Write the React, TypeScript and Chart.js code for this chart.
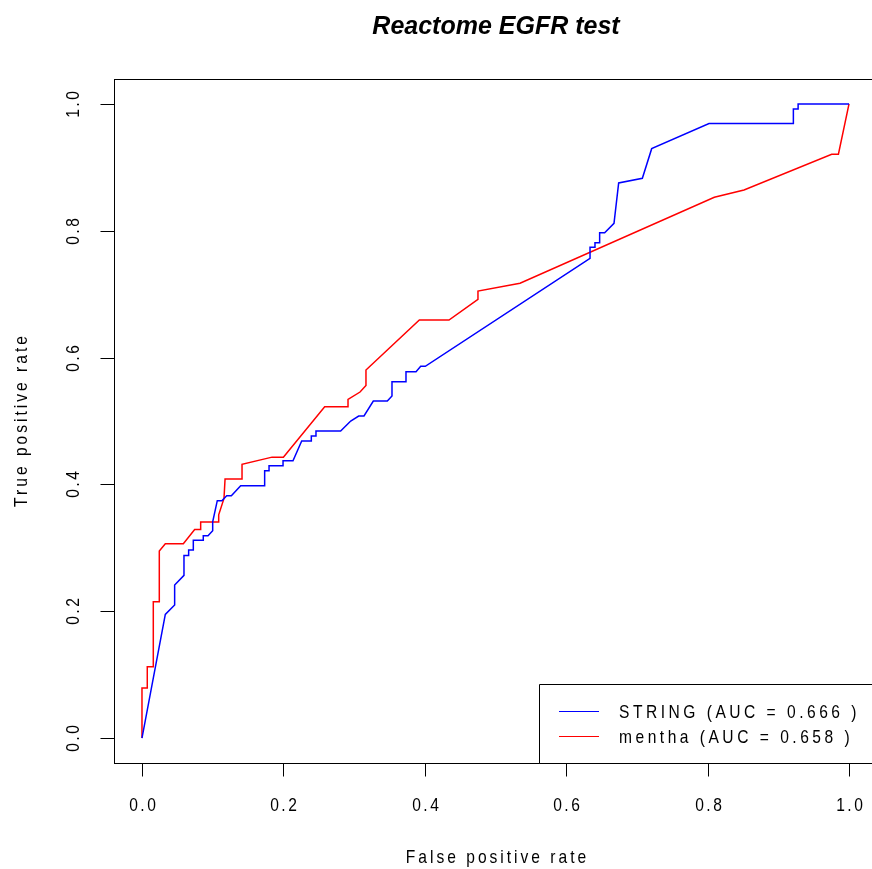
import React, { useEffect, useRef } from "react";
import { Chart, registerables } from "chart.js";

Chart.register(...registerables);

const chartTitle = "Reactome EGFR test";
const xAxisTitle = "False positive rate";
const yAxisTitle = "True positive rate";
const xTicks = [0, 0.2, 0.4, 0.6, 0.8, 1.0];
const yTicks = [0, 0.2, 0.4, 0.6, 0.8, 1.0];
const seriesNames = ["STRING (AUC = 0.666 )", "mentha (AUC = 0.658 )"];
const seriesColors = ["#0000ff", "#ff0000"];

const stringFpr = [
  0, 0.033, 0.0462, 0.0462, 0.0594, 0.0594, 0.066, 0.066, 0.0726, 0.0726, 0.0867, 0.0867, 0.0934, 0.1, 0.1,
  0.1065, 0.113, 0.1198, 0.1264, 0.1396, 0.1735, 0.1735, 0.1797, 0.1797, 0.1995, 0.1995, 0.2136, 0.2259, 0.2395,
  0.2395, 0.2461, 0.2461, 0.281, 0.2952, 0.3065, 0.314, 0.3272, 0.347, 0.3536, 0.3536, 0.3734, 0.3734, 0.3876,
  0.3942, 0.4007, 0.6337, 0.6337, 0.6407, 0.6407, 0.6473, 0.6473, 0.6544, 0.6676, 0.6742, 0.7077, 0.7209, 0.802,
  0.9213, 0.9213, 0.928, 0.928, 1.0,
];
const stringTpr = [
  0, 0.195, 0.2098, 0.2413, 0.2566, 0.288, 0.288, 0.2965, 0.2965, 0.3118, 0.3118, 0.319, 0.319, 0.327, 0.341,
  0.3743, 0.3743, 0.3822, 0.3822, 0.398, 0.398, 0.4216, 0.4216, 0.4295, 0.4295, 0.4374, 0.4374, 0.4685, 0.4685,
  0.4763, 0.4763, 0.4842, 0.4842, 0.5, 0.5079, 0.5079, 0.5315, 0.5315, 0.5394, 0.562, 0.562, 0.5778, 0.5778,
  0.5862, 0.5862, 0.7566, 0.774, 0.774, 0.7813, 0.7813, 0.797, 0.797, 0.8118, 0.8754, 0.8828, 0.9295, 0.969,
  0.969, 0.9922, 0.9922, 1.0, 1.0,
];

const menthaFpr = [
  0, 0, 0.0075, 0.0075, 0.016, 0.016, 0.0245, 0.0245, 0.033, 0.0585, 0.0745, 0.083, 0.083, 0.1085, 0.1085, 0.116,
  0.1175, 0.1415, 0.1415, 0.184, 0.2, 0.2584, 0.2914, 0.2914, 0.3084, 0.3168, 0.3168, 0.3923, 0.4342, 0.4752,
  0.4752, 0.5347, 0.8095, 0.8515, 0.9755, 0.985, 1.0,
];
const menthaTpr = [
  0, 0.079, 0.079, 0.1125, 0.1125, 0.215, 0.215, 0.295, 0.3065, 0.3065, 0.329, 0.329, 0.3407, 0.3407, 0.352, 0.378,
  0.4085, 0.4085, 0.4317, 0.443, 0.443, 0.5226, 0.5226, 0.534, 0.5457, 0.556, 0.5804, 0.6593, 0.6593, 0.692,
  0.705, 0.7172, 0.8528, 0.8644, 0.9208, 0.9208, 1.0,
];

const SANS = "'Liberation Sans', Arial, sans-serif";
const SQUEEZE = 0.82;

function narrowText(
  ctx: CanvasRenderingContext2D,
  text: string,
  x: number,
  y: number,
  size: number,
  spacing: number,
  align: CanvasTextAlign,
  rotate = 0
) {
  ctx.save();
  ctx.translate(x, y);
  if (rotate) ctx.rotate(rotate);
  ctx.scale(SQUEEZE, 1);
  ctx.font = `${size}px ${SANS}`;
  (ctx as any).letterSpacing = `${spacing / SQUEEZE}px`;
  ctx.textAlign = align;
  ctx.textBaseline = "middle";
  const shift = align === "center" ? spacing / SQUEEZE / 2 : 0;
  ctx.fillText(text, shift, 0);
  ctx.restore();
}

const annotate = {
  id: "rAnnotate",
  afterDraw(chart: any) {
    const ctx: CanvasRenderingContext2D = chart.ctx;
    const area = chart.chartArea;
    const xs = chart.scales.x;
    const ys = chart.scales.y;
    ctx.save();
    ctx.strokeStyle = "#000";
    ctx.fillStyle = "#000";
    ctx.lineWidth = 1;
    const L = Math.round(area.left) + 0.5;
    const T = Math.round(area.top) + 0.5;
    const R = Math.round(area.right) + 0.5;
    const B = Math.round(area.bottom) + 0.5;
    ctx.strokeRect(L, T, R - L, B - T);

    xTicks.forEach((v) => {
      const px = Math.round(xs.getPixelForValue(v)) + 0.5;
      ctx.beginPath();
      ctx.moveTo(px, B);
      ctx.lineTo(px, B + 13);
      ctx.stroke();
      narrowText(ctx, v.toFixed(1), px, 806, 19, 2.5, "center");
    });
    yTicks.forEach((v) => {
      const py = Math.round(ys.getPixelForValue(v)) + 0.5;
      ctx.beginPath();
      ctx.moveTo(L, py);
      ctx.lineTo(L - 14, py);
      ctx.stroke();
      narrowText(ctx, v.toFixed(1), 74, py, 19, 2.5, "center", -Math.PI / 2);
    });

    narrowText(ctx, xAxisTitle, (L + R) / 2, 858, 19, 3, "center");
    narrowText(ctx, yAxisTitle, 22, (T + B) / 2, 19, 3, "center", -Math.PI / 2);

    ctx.save();
    (ctx as any).letterSpacing = "0px";
    ctx.font = `bold italic 25px ${SANS}`;
    ctx.textAlign = "center";
    ctx.textBaseline = "alphabetic";
    ctx.fillText(chartTitle, (L + R) / 2, 34);
    ctx.restore();

    const lx = 539.5;
    const ly = 684.5;
    ctx.beginPath();
    ctx.rect(lx, ly, 900 - lx, B - ly);
    ctx.fillStyle = "#fff";
    ctx.fill();
    ctx.strokeStyle = "#000";
    ctx.stroke();
    const rowY = [711.5, 736.5];
    seriesNames.forEach((name, i) => {
      ctx.strokeStyle = seriesColors[i];
      ctx.lineWidth = 1;
      ctx.beginPath();
      ctx.moveTo(559, rowY[i]);
      ctx.lineTo(599, rowY[i]);
      ctx.stroke();
      ctx.fillStyle = "#000";
      narrowText(ctx, name, 619, rowY[i] + 1, 19, 3.5, "left");
    });
    ctx.restore();
  },
};

export default function App() {
  const ref = useRef<HTMLCanvasElement | null>(null);
  useEffect(() => {
    if (!ref.current) return;
    const chart = new Chart(ref.current, {
      type: "scatter",
      data: {
        datasets: [
          {
            label: seriesNames[0],
            data: stringFpr.map((x, i) => ({ x, y: stringTpr[i] })),
            borderColor: seriesColors[0],
            backgroundColor: seriesColors[0],
            borderWidth: 1.5,
            showLine: true,
            pointRadius: 0,
            tension: 0,
          },
          {
            label: seriesNames[1],
            data: menthaFpr.map((x, i) => ({ x, y: menthaTpr[i] })),
            borderColor: seriesColors[1],
            backgroundColor: seriesColors[1],
            borderWidth: 1.5,
            showLine: true,
            pointRadius: 0,
            tension: 0,
          },
        ],
      },
      options: {
        responsive: false,
        animation: false,
        devicePixelRatio: 1,
        layout: { padding: { left: 113.7, top: 78.6, right: 880 - 877.3, bottom: 869 - 763.4 } },
        plugins: { legend: { display: false }, title: { display: false }, tooltip: { enabled: false } },
        scales: {
          x: { type: "linear", min: -0.04, max: 1.04, display: false },
          y: { type: "linear", min: -0.04, max: 1.04, display: false },
        },
      },
      plugins: [annotate],
    });
    return () => chart.destroy();
  }, []);
  return (
    <div style={{ position: "fixed", left: 0, top: 0, width: 872, height: 869, overflow: "hidden", background: "#fff" }}>
      <canvas ref={ref} width={880} height={869} style={{ display: "block" }} />
    </div>
  );
}
